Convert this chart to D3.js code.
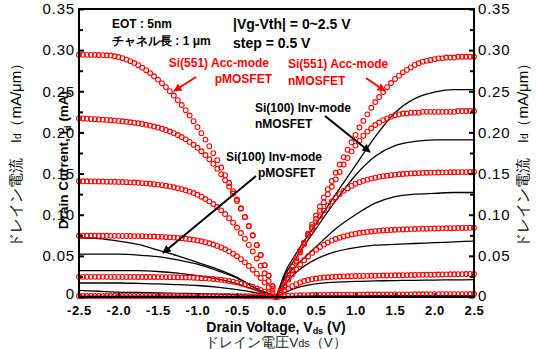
<!DOCTYPE html>
<html><head><meta charset="utf-8">
<script src="https://cdn.jsdelivr.net/npm/d3@7"></script>
<style>
body{margin:0;background:#fff;}
svg{display:block;}
text{font-family:Arial,"Liberation Sans",sans-serif;}
</style></head><body>
<svg id="chart" width="537" height="349"></svg>
<script>
// |Vds| grid of the measured Si(551) accumulation-mode points (V)
const vdsRed = [0,0.05,0.1,0.15,0.2,0.25,0.3,0.35,0.4,0.45,0.5,0.55,0.6,0.65,0.7,0.75,0.8,0.85,0.9,0.95,1,1.05,1.1,1.15,1.2,1.25,1.3,1.35,1.4,1.45,1.5,1.55,1.6,1.65,1.7,1.75,1.8,1.85,1.9,1.95,2,2.05,2.1,2.15,2.2,2.25,2.3,2.35,2.4,2.45,2.5];
// Si(551) Acc-mode pMOSFET, |Id| (mA/um), |Vg-Vth| = 2.5 ... 0 V
const pAcc1 = [0,.0132,.0261,.0387,.0510,.0630,.0747,.0861,.0972,.1080,.1184,.1286,.1385,.1481,.1573,.1663,.1749,.1833,.1913,.1991,.2065,.2137,.2205,.2270,.2333,.2392,.2448,.2501,.2551,.2598,.2642,.2683,.2721,.2756,.2788,.2817,.2843,.2866,.2885,.2902,.2916,.2926,.2934,.2938,.2940,.2941,.2942,.2942,.2943,.2943,.2944];
const pAcc2 = [0,.0130,.0260,.0387,.0512,.0634,.0751,.0863,.0971,.1072,.1168,.1258,.1342,.1420,.1492,.1558,.1619,.1674,.1725,.1771,.1813,.1851,.1885,.1916,.1944,.1969,.1991,.2011,.2029,.2045,.2059,.2072,.2083,.2093,.2102,.2111,.2118,.2124,.2130,.2135,.2140,.2144,.2148,.2152,.2155,.2158,.2161,.2164,.2167,.2170,.2173];
const pAcc3 = [0,.0097,.0193,.0288,.0380,.0468,.0553,.0633,.0708,.0778,.0844,.0904,.0958,.1008,.1053,.1093,.1130,.1162,.1191,.1219,.1242,.1263,.1281,.1297,.1311,.1323,.1334,.1344,.1352,.1359,.1366,.1371,.1376,.1381,.1384,.1388,.1391,.1393,.1395,.1397,.1399,.1400,.1401,.1402,.1403,.1404,.1405,.1405,.1406,.1406,.1407];
const pAcc4 = [0,.0059,.0118,.0175,.0231,.0283,.0332,.0378,.0421,.0460,.0495,.0526,.0554,.0580,.0602,.0621,.0638,.0653,.0666,.0677,.0687,.0695,.0702,.0708,.0714,.0718,.0722,.0725,.0728,.0731,.0733,.0735,.0736,.0737,.0739,.0740,.0740,.0741,.0742,.0742,.0743,.0743,.0743,.0744,.0744,.0744,.0744,.0744,.0745,.0745,.0745];
const pAcc5 = [0,.0022,.0044,.0065,.0085,.0103,.0121,.0137,.0151,.0164,.0175,.0186,.0194,.0202,.0209,.0214,.0219,.0223,.0227,.0229,.0232,.0234,.0236,.0237,.0239,.0240,.0241,.0241,.0242,.0242,.0242,.0243,.0243,.0243,.0243,.0243,.0244,.0244,.0244,.0244,.0244,.0244,.0244,.0245,.0245,.0245,.0245,.0245,.0245,.0245,.0245];
const pAcc6 = [0,.0003,.0005,.0007,.0008,.0009,.0010,.0010,.0010,.0011,.0011,.0011,.0011,.0011,.0011,.0011,.0011,.0011,.0011,.0011,.0011,.0011,.0011,.0011,.0011,.0012,.0012,.0012,.0012,.0012,.0012,.0012,.0012,.0012,.0012,.0012,.0012,.0012,.0012,.0012,.0012,.0012,.0012,.0012,.0012,.0012,.0012,.0012,.0012,.0012,.0012];
// Si(551) Acc-mode nMOSFET
const nAcc1 = [0,.006,.014,.023,.033,.044,.055,.066,.077,.088,.099,.110,.121,.131,.141,.151,.161,.170,.179,.188,.197,.206,.214,.222,.230,.237,.243,.249,.255,.260,.265,.269,.273,.276,.279,.282,.284,.286,.287,.288,.289,.290,.290,.291,.291,.291,.292,.292,.292,.292,.292];
const nAcc2 = [0,.006,.014,.023,.032,.043,.054,.064,.075,.085,.095,.105,.115,.125,.134,.143,.152,.161,.169,.177,.184,.190,.196,.201,.205,.209,.212,.215,.217,.219,.221,.222,.223,.223,.224,.224,.224,.225,.225,.225,.225,.225,.225,.225,.225,.225,.226,.226,.226,.226,.226];
const nAcc3 = [0,.008,.017,.027,.037,.047,.057,.066,.075,.083,.091,.098,.105,.111,.116,.121,.125,.129,.132,.135,.1376,.1395,.1412,.1426,.1439,.1450,.1460,.1468,.1475,.1481,.1487,.1491,.1495,.1499,.1502,.1504,.1506,.1508,.1510,.1511,.1512,.1513,.1514,.1515,.1516,.1516,.1517,.1518,.1518,.1519,.1520];
const nAcc4 = [0,.006,.013,.0211,.0275,.0337,.0394,.0446,.0493,.0536,.0574,.0608,.0637,.0663,.0685,.0705,.0721,.0736,.0748,.0760,.0769,.0777,.0784,.0791,.0796,.0801,.0805,.0809,.0812,.0815,.0817,.0819,.0821,.0823,.0825,.0826,.0828,.0829,.0830,.0831,.0832,.0833,.0834,.0835,.0836,.0837,.0838,.0839,.0840,.0841,.0842];
const nAcc5 = [0,.003,.007,.0103,.0132,.0156,.0177,.0194,.0206,.0217,.0225,.0232,.0237,.0240,.0244,.0247,.0249,.0251,.0252,.0253,.0255,.0256,.0256,.0257,.0258,.0259,.0260,.0261,.0262,.0263,.0264,.0264,.0265,.0266,.0267,.0268,.0269,.0270,.0270,.0271,.0272,.0273,.0274,.0275,.0276,.0276,.0277,.0278,.0279,.0280,.0280];
const nAcc6 = [0,.0005,.0010,.0014,.0017,.0019,.0021,.0022,.0023,.0024,.0025,.0025,.0026,.0026,.0027,.0027,.0027,.0028,.0028,.0028,.0029,.0029,.0029,.0030,.0030,.0030,.0030,.0031,.0031,.0031,.0031,.0032,.0032,.0032,.0032,.0033,.0033,.0033,.0033,.0034,.0034,.0034,.0034,.0034,.0035,.0035,.0035,.0035,.0035,.0036,.0036];

// |Vds| grid of the Si(100) inversion-mode curves (V)
const vdsInv = [0,0.1,0.25,0.5,0.75,1.0,1.25,1.5,1.75,2.0,2.25,2.5];
const nInv1 = [0,0.028,0.053,0.089,0.125,0.160,0.195,0.224,0.241,0.249,0.252,0.252];
const nInv2 = [0,0.025,0.048,0.083,0.117,0.148,0.171,0.184,0.189,0.191,0.191,0.191];
const nInv3 = [0,0.022,0.038,0.061,0.083,0.100,0.114,0.122,0.125,0.126,0.127,0.127];
const nInv4 = [0,0.015,0.030,0.046,0.055,0.060,0.063,0.064,0.065,0.066,0.067,0.068];
const nInv5 = [0,0.005,0.011,0.016,0.018,0.019,0.0195,0.020,0.0203,0.0206,0.0208,0.021];
const nInv6 = [0,0.0005,0.001,0.0012,0.0013,0.0014,0.0015,0.0015,0.0016,0.0016,0.0017,0.0017];
const pInv1 = [0,0.004,0.010,0.024,0.034,0.042,0.050,0.057,0.064,0.068,0.071,0.072];
const pInv2 = [0,0.004,0.010,0.023,0.032,0.040,0.045,0.049,0.051,0.052,0.052,0.052];
const pInv3 = [0,0.003,0.008,0.016,0.022,0.026,0.029,0.031,0.032,0.032,0.032,0.032];
const pInv4 = [0,0.002,0.005,0.009,0.012,0.014,0.015,0.016,0.0165,0.017,0.017,0.017];
const pInv5 = [0,0.001,0.002,0.003,0.0035,0.004,0.0045,0.005,0.0055,0.006,0.007,0.008];
const pInv6 = [0,0.0003,0.0005,0.0007,0.0008,0.0009,0.001,0.001,0.001,0.001,0.001,0.001];

const xTickValues = [-2.5,-2,-1.5,-1,-0.5,0,0.5,1,1.5,2,2.5];
const xTickLabels = ["-2.5","-2.0","-1.5","-1.0","-0.5","0.0","0.5","1.0","1.5","2.0","2.5"];
const yTickValues = [0,0.05,0.1,0.15,0.2,0.25,0.3,0.35];
const yTickLabels = ["0","0.05","0.10","0.15","0.20","0.25","0.30","0.35"];
const yMinorTicks = [0.025,0.075,0.125,0.175,0.225,0.275,0.325];

const RED = "#ff0000";
const svg = d3.select("#chart");
const x = d3.scaleLinear().domain([-2.5,2.5]).range([79,474]);
const y = d3.scaleLinear().domain([0,0.35]).range([297,9]);

// markers
const defs = svg.append("defs");
function marker(id,color){
  defs.append("marker").attr("id",id).attr("viewBox","0 0 10 10").attr("refX",9).attr("refY",5)
   .attr("markerWidth",4.2).attr("markerHeight",4.2).attr("orient","auto")
   .append("path").attr("d","M0,0 L10,5 L0,10 Z").attr("fill",color);
}
marker("ah-black","#000"); marker("ah-red",RED);

// black lines (Si(100) Inv-mode)
const line = d3.line().x(d=>x(d[0])).y(d=>y(d[1])).curve(d3.curveMonotoneX);
const gLines = svg.append("g");
[nInv1,nInv2,nInv3,nInv4,nInv5,nInv6].forEach(arr=>{
  const pts = vdsInv.map((v,i)=>[v,arr[i]]);
  gLines.append("path").attr("d",line(pts)).attr("fill","none").attr("stroke","#000").attr("stroke-width",1.3);
});
[pInv1,pInv2,pInv3,pInv4,pInv5,pInv6].forEach(arr=>{
  const pts = vdsInv.map((v,i)=>[-v,arr[i]]).reverse();
  gLines.append("path").attr("d",line(pts)).attr("fill","none").attr("stroke","#000").attr("stroke-width",1.3);
});

// red circles (Si(551) Acc-mode)
const gPts = svg.append("g");
function circles(arr,sign){
  gPts.append("g").selectAll("circle").data(vdsRed.map((v,i)=>[sign*v,arr[i]])).join("circle")
   .attr("cx",d=>x(d[0])).attr("cy",d=>y(d[1])).attr("r",2.4)
   .attr("fill","none").attr("stroke",RED).attr("stroke-width",1.1);
}
[pAcc1,pAcc2,pAcc3,pAcc4,pAcc5,pAcc6].forEach(a=>circles(a,-1));
[nAcc1,nAcc2,nAcc3,nAcc4,nAcc5,nAcc6].forEach(a=>circles(a,1));

// axes
const gx = svg.append("g").attr("transform","translate(0,297)")
  .call(d3.axisBottom(x).tickValues(xTickValues).tickFormat((d,i)=>xTickLabels[i]).tickSizeInner(-4).tickSizeOuter(0).tickPadding(9));
gx.select(".domain").remove();
gx.selectAll("line").attr("stroke","#000").attr("stroke-width",1.5);
gx.selectAll("text").attr("font-size",13).attr("font-weight","bold").attr("letter-spacing",0.6).attr("fill","#000");

const gyl = svg.append("g").attr("transform","translate(79,0)")
  .call(d3.axisLeft(y).tickValues(yTickValues).tickFormat((d,i)=>yTickLabels[i]).tickSizeInner(-5).tickSizeOuter(0).tickPadding(4));
gyl.select(".domain").remove();
const gylm = svg.append("g").attr("transform","translate(79,0)")
  .call(d3.axisLeft(y).tickValues(yMinorTicks).tickFormat("").tickSizeInner(-4).tickSizeOuter(0));
gylm.select(".domain").remove();
const gyr = svg.append("g").attr("transform","translate(474,0)")
  .call(d3.axisRight(y).tickValues(yTickValues).tickFormat((d,i)=>yTickLabels[i]).tickSizeInner(-5).tickSizeOuter(0).tickPadding(4));
gyr.select(".domain").remove();
const gyrm = svg.append("g").attr("transform","translate(474,0)")
  .call(d3.axisRight(y).tickValues(yMinorTicks).tickFormat("").tickSizeInner(-4).tickSizeOuter(0));
gyrm.select(".domain").remove();
[gyl,gyr,gylm,gyrm].forEach(g=>{
  g.selectAll("line").attr("stroke","#000").attr("stroke-width",2);
  g.selectAll("text").attr("font-size",15).attr("letter-spacing",0.8).attr("fill","#000");
});
// lift the two "0" labels a little so they clear the x tick labels
gyl.selectAll(".tick").filter(d=>d===0).select("text").attr("dy","0.1em");
gyr.selectAll(".tick").filter(d=>d===0).select("text").attr("dy","0.2em");

// frame
svg.append("rect").attr("x",79).attr("y",9).attr("width",395).attr("height",288)
  .attr("fill","none").attr("stroke","#000").attr("stroke-width",2);

// titles
const JP = '"Noto Sans CJK JP","Noto Sans",sans-serif';
function jpTitle(cx){
  const t = svg.append("text").attr("transform",`translate(${cx},152) rotate(-90)`)
    .attr("text-anchor","middle").attr("dominant-baseline","central")
    .attr("font-family",JP).attr("font-size",15).attr("fill","#000");
  t.append("tspan").text("ドレイン電流　I");
  t.append("tspan").attr("font-size",10).attr("dy",2).text("d");
  t.append("tspan").attr("dy",-2).text("（mA/μm）");
}
jpTitle(15); jpTitle(522);

const dc = svg.append("text").attr("transform","translate(68,160) rotate(-90)")
  .attr("text-anchor","middle").attr("font-size",13.5).attr("font-weight","bold").attr("fill","#000");
dc.append("tspan").text("Drain Current, I");
dc.append("tspan").attr("font-size",9).attr("dy",3).text("d");
dc.append("tspan").attr("dy",-3).text(" (mA)");

const dv = svg.append("text").attr("x",276).attr("y",332)
  .attr("text-anchor","middle").attr("font-size",14).attr("font-weight","bold").attr("fill","#000");
dv.append("tspan").text("Drain Voltage, V");
dv.append("tspan").attr("font-size",9).attr("dy",2).text("ds");
dv.append("tspan").attr("dy",-2).text(" (V)");

const jv = svg.append("text").attr("x",276).attr("y",347)
  .attr("text-anchor","middle").attr("font-family",JP).attr("font-size",13.5).attr("fill","#222");
jv.append("tspan").text("ドレイン電圧V");
jv.append("tspan").attr("font-size",11).text("ds");
jv.append("tspan").text("（V）");

// annotations
function label(tx,ty,str,opts={}){
  return svg.append("text").attr("x",tx).attr("y",ty).text(str)
    .attr("font-size",opts.size||12).attr("font-weight","bold")
    .attr("fill",opts.color||"#000").attr("text-anchor",opts.anchor||"start")
    .attr("font-family",opts.jp?JP:null);
}
label(112,28,"EOT : 5nm");
label(112,45,"チャネル長 : 1 μm",{jp:true});
label(233,29,"|Vg-Vth| = 0~2.5 V",{size:14});
label(233,48,"step = 0.5 V",{size:14});
label(269,67,"Si(551) Acc-mode",{color:RED,anchor:"end"});
label(272,83,"pMOSFET",{color:RED,anchor:"end"});
label(288,68,"Si(551) Acc-mode",{color:RED});
label(288,85,"nMOSFET",{color:RED});
label(255,112,"Si(100) Inv-mode");
label(255,128,"nMOSFET");
label(226,161,"Si(100) Inv-mode");
label(258,177,"pMOSFET");

function arrow(x1,y1,x2,y2,color,id){
  svg.append("line").attr("x1",x1).attr("y1",y1).attr("x2",x2).attr("y2",y2)
   .attr("stroke",color).attr("stroke-width",2).attr("marker-end",`url(#${id})`);
}
arrow(196,77,174,91,RED,"ah-red");
arrow(366,78,385,91,RED,"ah-red");
arrow(325,116,370,152,"#000","ah-black");
arrow(256,176,163,253,"#000","ah-black");
</script>
</body></html>
